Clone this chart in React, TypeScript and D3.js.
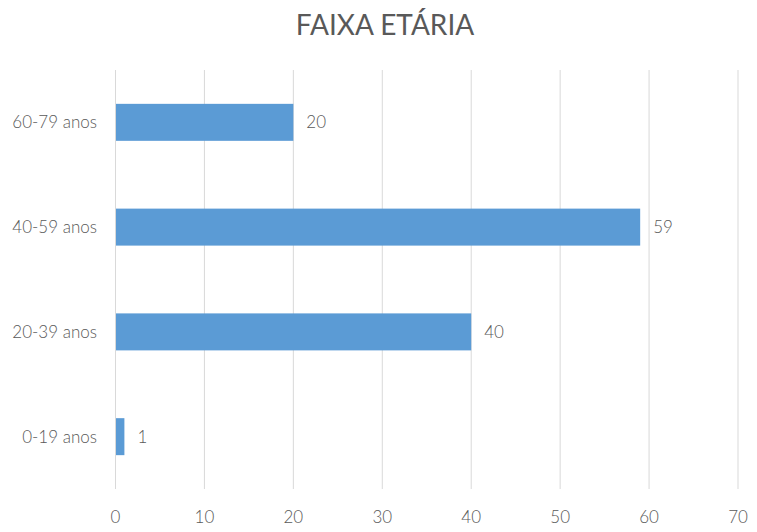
import React from "react";
import * as d3 from "d3";

const categories = ["60-79 anos", "40-59 anos", "20-39 anos", "0-19 anos"];
const values = [20, 59, 40, 1];
const xTicks = [0, 10, 20, 30, 40, 50, 60, 70];
const title = "FAIXA ETÁRIA";

export default function App() {
  const W = 757, H = 532;
  const left = 115.5, right = 738, top = 70, bottom = 489;
  const x = d3.scaleLinear().domain([0, 70]).range([left, right]);
  const y = d3.scaleBand().domain(categories).range([top, bottom]).paddingInner(0.647).paddingOuter(0.323);
  const font = "Lato, 'Open Sans', sans-serif";
  const txt = "#595959";
  return (
    <svg width={W} height={H} style={{ position: "absolute", left: 0, top: 0 }} fontFamily={font}>
      <rect width={W} height={H} fill="#fff" />
      <text x={385} y={35} textAnchor="middle" fontSize={28} fill={txt}>{title}</text>
      {xTicks.map((t) => (
        <g key={t}>
          <line x1={x(t)} x2={x(t)} y1={top} y2={bottom} stroke="#d9d9d9" strokeWidth={1} />
          <text x={x(t)} y={523} textAnchor="middle" fontSize={17} fontWeight={300} fill={txt}>{t}</text>
        </g>
      ))}
      {categories.map((c, i) => (
        <g key={c}>
          <rect x={x(0)} y={y(c)} width={x(values[i]) - x(0)} height={y.bandwidth()} fill="#5b9bd5" />
          <text x={x(values[i]) + 13} y={(y(c) as number) + y.bandwidth() / 2} dy="0.35em" fontSize={17} fontWeight={300} fill={txt}>{values[i]}</text>
          <text x={97} y={(y(c) as number) + y.bandwidth() / 2} dy="0.35em" textAnchor="end" fontSize={17} fontWeight={300} fill={txt}>{c}</text>
        </g>
      ))}
      <line x1={x(0)} x2={x(0)} y1={top} y2={bottom} stroke="#d9d9d9" strokeWidth={1} />
    </svg>
  );
}
